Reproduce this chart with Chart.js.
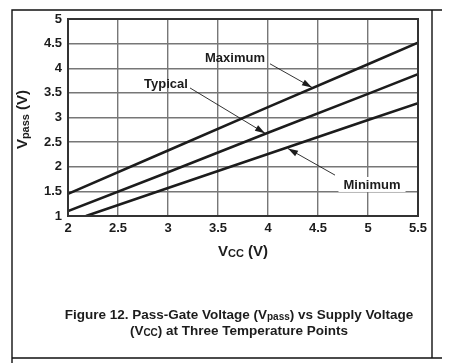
<!DOCTYPE html>
<html>
<head>
<meta charset="utf-8">
<script src="https://cdn.jsdelivr.net/npm/chart.js@4.4.1/dist/chart.umd.min.js"></script>
<style>
  html, body { margin: 0; padding: 0; background: #fff; }
  #wrap { width: 460px; height: 363px; }
</style>
</head>
<body>
<div id="wrap"><canvas id="chart" width="460" height="363"></canvas></div>
<script>
// Data
const xTicks = [2, 2.5, 3, 3.5, 4, 4.5, 5, 5.5];
const yTicks = [1, 1.5, 2, 2.5, 3, 3.5, 4, 4.5, 5];

const vccMax = [2, 3, 4, 5, 5.5];
const vpassMax = [1.45, 2.33, 3.21, 4.08, 4.52];

const vccTyp = [2, 3, 4, 5, 5.5];
const vpassTyp = [1.1, 1.89, 2.69, 3.48, 3.88];

const vccMin = [2.18, 3, 4, 5, 5.5];
const vpassMin = [1.0, 1.57, 2.26, 2.95, 3.29];

// Callout labels: text position and arrow (start -> tip), in data units
const callouts = [
  { text: 'Maximum', at: [3.67, 4.19], from: [4.02, 4.09], to: [4.44, 3.61] },
  { text: 'Typical', at: [2.98, 3.68], from: [3.22, 3.60], to: [3.97, 2.68] },
  { text: 'Minimum', at: [5.04, 1.63], from: [4.67, 1.83], to: [4.20, 2.37], box: true },
];

const ink = '#1c1c1c';
const fontFamily = '"Liberation Sans", Arial, Helvetica, sans-serif';

function toPoints(xs, ys) {
  return xs.map((x, i) => ({ x: x, y: ys[i] }));
}

function lineSet(label, xs, ys) {
  return {
    label: label,
    data: toPoints(xs, ys),
    borderColor: ink,
    borderWidth: 2.6,
    pointRadius: 0,
    fill: false,
    tension: 0,
  };
}

// Draws a run of text pieces; each piece may be a subscript
function drawRuns(ctx, runs, x, y) {
  let total = 0;
  runs.forEach(r => {
    ctx.font = 'bold ' + r.size + 'px ' + fontFamily;
    r.w = ctx.measureText(r.t).width;
    total += r.w;
  });
  let cx = x - total / 2;
  runs.forEach(r => {
    ctx.font = 'bold ' + r.size + 'px ' + fontFamily;
    ctx.fillText(r.t, cx, y + (r.dy || 0));
    cx += r.w;
  });
}

function arrow(ctx, x1, y1, x2, y2) {
  ctx.save();
  ctx.strokeStyle = ink;
  ctx.fillStyle = ink;
  ctx.lineWidth = 0.9;
  ctx.beginPath();
  ctx.moveTo(x1, y1);
  ctx.lineTo(x2, y2);
  ctx.stroke();
  const a = Math.atan2(y2 - y1, x2 - x1);
  const len = 10, half = 3.2;
  ctx.beginPath();
  ctx.moveTo(x2, y2);
  ctx.lineTo(x2 - len * Math.cos(a) + half * Math.sin(a), y2 - len * Math.sin(a) - half * Math.cos(a));
  ctx.lineTo(x2 - len * Math.cos(a) - half * Math.sin(a), y2 - len * Math.sin(a) + half * Math.cos(a));
  ctx.closePath();
  ctx.fill();
  ctx.restore();
}

const decorations = {
  id: 'decorations',
  afterDraw(chart) {
    const ctx = chart.ctx;
    const xs = chart.scales.x, ys = chart.scales.y;
    const area = chart.chartArea;

    // plot border
    ctx.save();
    ctx.strokeStyle = '#333';
    ctx.lineWidth = 2;
    ctx.strokeRect(area.left, area.top, area.right - area.left, area.bottom - area.top);

    // page frame
    ctx.strokeStyle = '#111';
    ctx.lineWidth = 1.4;
    ctx.beginPath();
    ctx.moveTo(12, 363); ctx.lineTo(12, 10); ctx.lineTo(442, 10);
    ctx.moveTo(432, 10); ctx.lineTo(432, 358);
    ctx.moveTo(12, 358); ctx.lineTo(442, 358);
    ctx.stroke();

    ctx.fillStyle = ink;
    ctx.textBaseline = 'middle';
    ctx.textAlign = 'left';

    // callouts
    callouts.forEach(c => {
      const tx = xs.getPixelForValue(c.at[0]);
      const ty = ys.getPixelForValue(c.at[1]);
      ctx.font = 'bold 13px ' + fontFamily;
      const w = ctx.measureText(c.text).width;
      if (c.box) {
        ctx.fillStyle = '#fff';
        ctx.fillRect(tx - w / 2 - 5, ty - 8, w + 10, 15);
      }
      arrow(ctx,
        xs.getPixelForValue(c.from[0]), ys.getPixelForValue(c.from[1]),
        xs.getPixelForValue(c.to[0]), ys.getPixelForValue(c.to[1]));
      ctx.fillStyle = ink;
      ctx.textAlign = 'center';
      ctx.font = 'bold 13px ' + fontFamily;
      ctx.fillText(c.text, tx, ty);
      ctx.textAlign = 'left';
    });

    // x axis title
    drawRuns(ctx, [
      { t: 'V', size: 15 },
      { t: 'CC', size: 11, dy: 2 },
      { t: ' (V)', size: 15 },
    ], (area.left + area.right) / 2 + 0, 252);

    // y axis title
    ctx.save();
    ctx.translate(23, (area.top + area.bottom) / 2 + 2);
    ctx.rotate(-Math.PI / 2);
    drawRuns(ctx, [
      { t: 'V', size: 15 },
      { t: 'pass', size: 11, dy: 3 },
      { t: ' (V)', size: 15 },
    ], 0, 0);
    ctx.restore();

    // caption
    drawRuns(ctx, [
      { t: 'Figure 12. Pass-Gate Voltage (V', size: 13.5 },
      { t: 'pass', size: 10, dy: 2 },
      { t: ') vs Supply Voltage', size: 13.5 },
    ], 239, 315);
    drawRuns(ctx, [
      { t: '(V', size: 13.5 },
      { t: 'CC', size: 10, dy: 2 },
      { t: ') at Three Temperature Points', size: 13.5 },
    ], 239, 331);
    ctx.restore();
  }
};

const gridStyle = {
  color: '#777',
  lineWidth: 1.4,
  drawTicks: false,
};

const tickStyle = {
  color: ink,
  font: { family: fontFamily, size: 13, weight: 'bold' },
  stepSize: 0.5,
  autoSkip: false,
  maxRotation: 0,
  callback: value => String(value),
};

new Chart(document.getElementById('chart'), {
  type: 'line',
  data: {
    datasets: [
      lineSet('Maximum', vccMax, vpassMax),
      lineSet('Typical', vccTyp, vpassTyp),
      lineSet('Minimum', vccMin, vpassMin),
    ]
  },
  options: {
    responsive: false,
    animation: false,
    devicePixelRatio: 1,
    layout: { padding: { left: 0, top: 19, right: 42, bottom: 0 } },
    plugins: {
      legend: { display: false },
      tooltip: { enabled: false },
    },
    scales: {
      x: {
        type: 'linear',
        min: xTicks[0],
        max: xTicks[xTicks.length - 1],
        grid: gridStyle,
        border: { display: false },
        ticks: Object.assign({}, tickStyle, { padding: 5 }),
        afterFit(scale) { scale.height = 147; },
      },
      y: {
        type: 'linear',
        min: yTicks[0],
        max: yTicks[yTicks.length - 1],
        grid: gridStyle,
        border: { display: false },
        ticks: Object.assign({}, tickStyle, { padding: 6 }),
        afterFit(scale) { scale.width = 68; },
      }
    }
  },
  plugins: [decorations]
});
</script>
</body>
</html>
